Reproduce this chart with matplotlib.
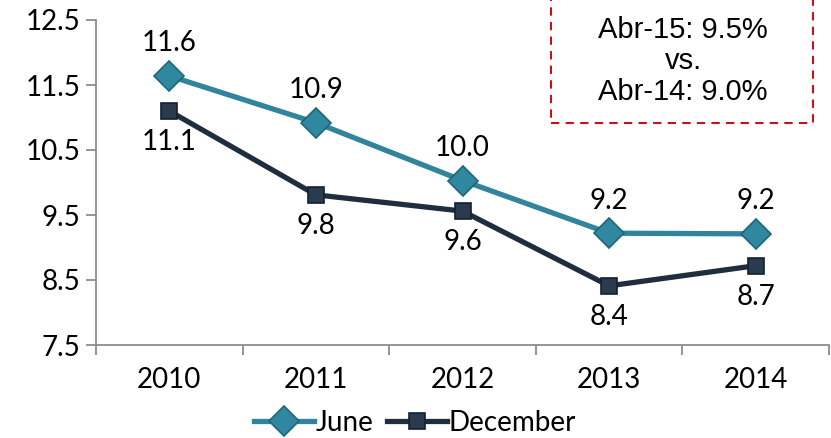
import matplotlib
matplotlib.use("Agg")
import matplotlib.pyplot as plt
from matplotlib.patches import Rectangle

years = ["2010", "2011", "2012", "2013", "2014"]
june = [11.64, 10.92, 10.03, 9.22, 9.21]
december = [11.10, 9.81, 9.56, 8.41, 8.72]
june_labels = ["11.6", "10.9", "10.0", "9.2", "9.2"]
dec_labels = ["11.1", "9.8", "9.6", "8.4", "8.7"]
yticks = [7.5, 8.5, 9.5, 10.5, 11.5, 12.5]
box_lines = ["Abr-15: 9.5%", "vs.", "Abr-14: 9.0%"]

c_june = "#31849B"
c_dec = "#1F2D3F"
font = "Lato"
fs = 20

fig = plt.figure(figsize=(8.31, 4.38), dpi=100)
ax = fig.add_axes([96/831, (438-345)/438, (829-96)/831, (345-20)/438])
x = list(range(len(years)))
ax.plot(x, june, color=c_june, lw=3.8, marker="D", ms=15, mfc="#2F87A0",
        mec="#1E6678", mew=1.2, label="June", zorder=3)
ax.plot(x, december, color=c_dec, lw=3.8, marker="s", ms=11, mfc="#2A3B50",
        mec="#152030", mew=1.2, label="December", zorder=3)

for i in x:
    ax.annotate(june_labels[i], (i, june[i]), xytext=(0, 14), textcoords="offset points",
                ha="center", va="bottom", fontsize=fs, family=font)
    ax.annotate(dec_labels[i], (i, december[i]), xytext=(0, -13), textcoords="offset points",
                ha="center", va="top", fontsize=fs, family=font)

ax.set_ylim(7.5, 12.5)
ax.set_xlim(-0.5, len(years) - 0.5)
ax.set_yticks(yticks)
ax.set_yticklabels([f"{v:.1f}" for v in yticks], fontsize=fs, family=font)
ax.set_xticks([i - 0.5 for i in range(len(years) + 1)])
ax.set_xticklabels([])
ax.set_xticks(x, minor=True)
ax.set_xticklabels(years, minor=True, fontsize=fs, family=font)
ax.tick_params(axis="x", which="minor", length=0, pad=16)
ax.tick_params(axis="x", which="major", length=7, color="#8C8C8C", width=1.3)
ax.tick_params(axis="y", length=7, color="#8C8C8C", width=1.3, pad=4)
for s in ["top", "right"]:
    ax.spines[s].set_visible(False)
for s in ["left", "bottom"]:
    ax.spines[s].set_color("#8C8C8C")
    ax.spines[s].set_linewidth(1.3)

# dashed annotation box
rect = Rectangle((551/831, (438-123)/438), (813-551)/831, 0.4, transform=fig.transFigure,
                 fill=True, facecolor="white", edgecolor="#C0141C", lw=1.5,
                 linestyle=(0, (4, 3)), zorder=5, clip_on=False)
fig.patches.append(rect)
fig.text(683/831, 1 - 61/438, "\n".join(box_lines), ha="center", va="center",
         fontsize=21, family="Liberation Sans", linespacing=1.12, zorder=10)

leg = fig.legend(loc="center", bbox_to_anchor=(415/831, 1 - 423/438), ncol=2, frameon=False,
                 prop={"family": font, "size": fs}, handlelength=2.15, columnspacing=0.5,
                 handletextpad=0.05, borderaxespad=0)

fig.savefig("out.png", dpi=100)
